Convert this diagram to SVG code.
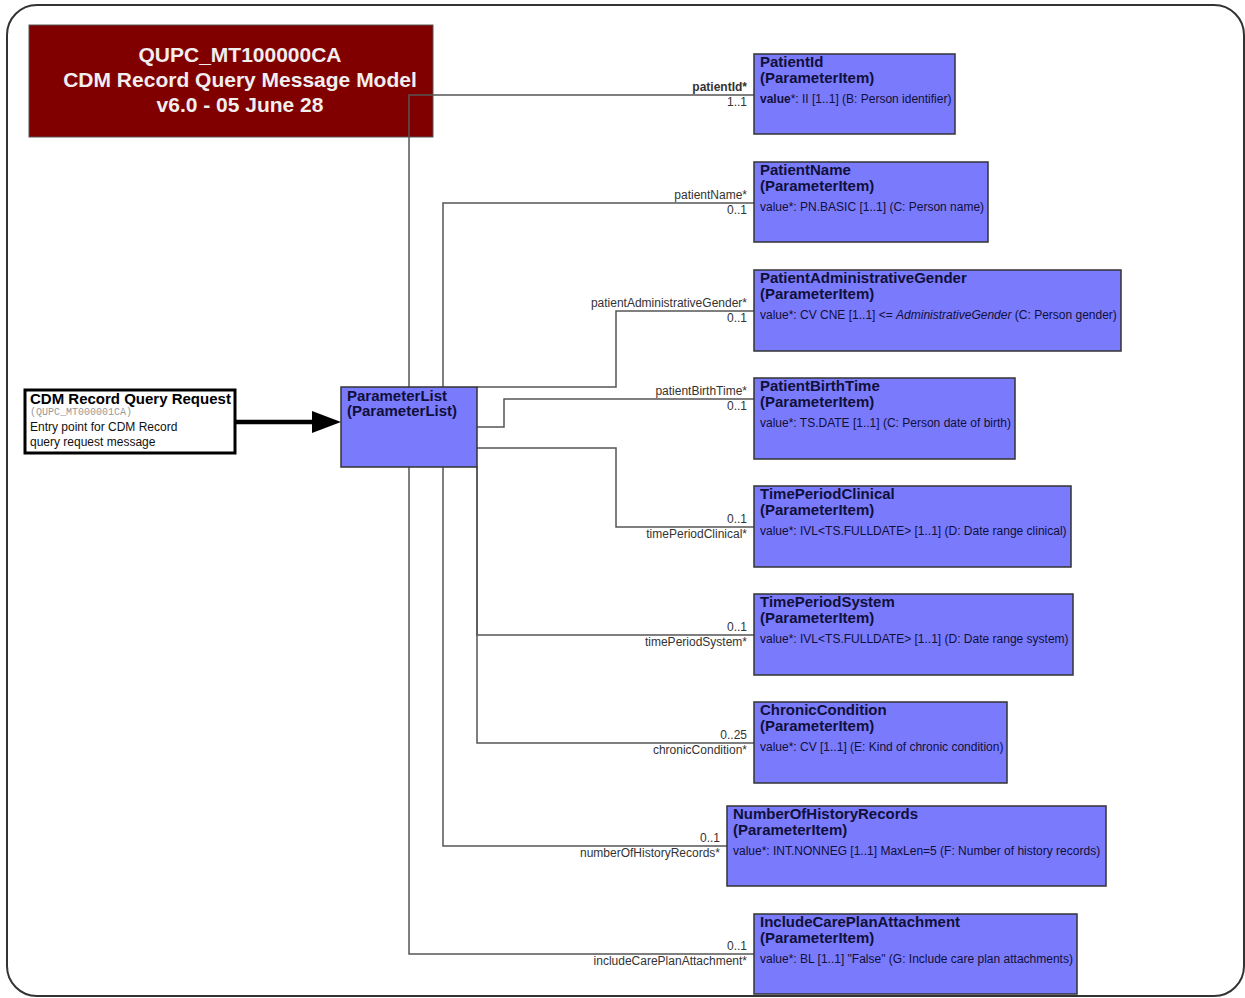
<svg xmlns="http://www.w3.org/2000/svg" width="1245" height="998" viewBox="0 0 1245 998">
<style>
.frame{fill:#fff;stroke:#333;stroke-width:2}
.node rect{fill:#7a7afc;stroke:#333;stroke-width:1.5}
.nt{font-family:"Liberation Sans",Arial,sans-serif;font-size:15px;font-weight:bold;fill:#10103a}
.nv{font-family:"Liberation Sans",Arial,sans-serif;font-size:12px;fill:#10103a}
.lbl{font-family:"Liberation Sans",Arial,sans-serif;font-size:12px;fill:#333;text-anchor:end}
.conn path{fill:none;stroke:#555;stroke-width:1.5}
.title{font-family:"Liberation Sans",Arial,sans-serif;font-size:21px;font-weight:bold;fill:#f0eeee;text-anchor:middle}
</style>
<rect class="frame" x="7" y="5" width="1237" height="991" rx="30"/>
<g id="title">
<rect x="29" y="25" width="404" height="112" fill="#800000" stroke="#555" stroke-width="1"/>
<text class="title" x="240" y="62">QUPC_MT100000CA</text>
<text class="title" x="240" y="87">CDM Record Query Message Model</text>
<text class="title" x="240" y="112">v6.0 - 05 June 28</text>
</g>
<g class="conn" id="connectors">
<path d="M409 387 V95 H754"/>
<path d="M443 387 V203 H754"/>
<path d="M477 387 H616 V311 H754"/>
<path d="M477 427 H504 V399 H754"/>
<path d="M477 448 H616 V527 H754"/>
<path d="M477 467 V635 H754"/>
<path d="M477 467 V743 H754"/>
<path d="M443 467 V846 H727"/>
<path d="M409 467 V954 H754"/>
<line x1="236" y1="422" x2="314" y2="422" stroke="#000" stroke-width="4.5"/>
<polygon points="312,411 341,422 312,433" fill="#000"/>
<text class="lbl" x="747" y="91" font-weight="bold">patientId*</text>
<text class="lbl" x="747" y="106">1..1</text>
<text class="lbl" x="747" y="199">patientName*</text>
<text class="lbl" x="747" y="214">0..1</text>
<text class="lbl" x="747" y="307">patientAdministrativeGender*</text>
<text class="lbl" x="747" y="322">0..1</text>
<text class="lbl" x="747" y="395">patientBirthTime*</text>
<text class="lbl" x="747" y="410">0..1</text>
<text class="lbl" x="747" y="523">0..1</text>
<text class="lbl" x="747" y="538">timePeriodClinical*</text>
<text class="lbl" x="747" y="631">0..1</text>
<text class="lbl" x="747" y="646">timePeriodSystem*</text>
<text class="lbl" x="747" y="739">0..25</text>
<text class="lbl" x="747" y="754">chronicCondition*</text>
<text class="lbl" x="720" y="842">0..1</text>
<text class="lbl" x="720" y="857">numberOfHistoryRecords*</text>
<text class="lbl" x="747" y="950">0..1</text>
<text class="lbl" x="747" y="965">includeCarePlanAttachment*</text>
</g>
<g id="entry">
<rect x="25" y="390" width="210" height="63" fill="#fff" stroke="#000" stroke-width="3"/>
<text x="30" y="404" font-family="Liberation Sans,Arial,sans-serif" font-size="15" font-weight="bold" fill="#000">CDM Record Query Request</text>
<text x="30" y="415" font-family="Liberation Mono,Courier New,monospace" font-size="10" fill="#999">(QUPC_MT000001CA)</text>
<text x="30" y="431" font-family="Liberation Sans,Arial,sans-serif" font-size="12" fill="#111">Entry point for CDM Record</text>
<text x="30" y="446" font-family="Liberation Sans,Arial,sans-serif" font-size="12" fill="#111">query request message</text>
</g>
<g class="node" id="ParameterList">
<rect x="341" y="387" width="136" height="80"/>
<text class="nt" x="347" y="401">ParameterList</text>
<text class="nt" x="347" y="416">(ParameterList)</text>
</g>
<g class="node" id="PatientId">
<rect x="754" y="54" width="201" height="80"/>
<text class="nt" x="760" y="67">PatientId</text>
<text class="nt" x="760" y="83">(ParameterItem)</text>
<text class="nv" x="760" y="103"><tspan font-weight="bold">value</tspan>*: II [1..1] (B: Person identifier)</text>
</g>
<g class="node" id="PatientName">
<rect x="754" y="162" width="234" height="80"/>
<text class="nt" x="760" y="175">PatientName</text>
<text class="nt" x="760" y="191">(ParameterItem)</text>
<text class="nv" x="760" y="211">value*: PN.BASIC [1..1] (C: Person name)</text>
</g>
<g class="node" id="PatientAdministrativeGender">
<rect x="754" y="270" width="367" height="81"/>
<text class="nt" x="760" y="283">PatientAdministrativeGender</text>
<text class="nt" x="760" y="299">(ParameterItem)</text>
<text class="nv" x="760" y="319">value*: CV CNE [1..1] &lt;= <tspan font-style="italic">AdministrativeGender</tspan> (C: Person gender)</text>
</g>
<g class="node" id="PatientBirthTime">
<rect x="754" y="378" width="261" height="81"/>
<text class="nt" x="760" y="391">PatientBirthTime</text>
<text class="nt" x="760" y="407">(ParameterItem)</text>
<text class="nv" x="760" y="427">value*: TS.DATE [1..1] (C: Person date of birth)</text>
</g>
<g class="node" id="TimePeriodClinical">
<rect x="754" y="486" width="317" height="81"/>
<text class="nt" x="760" y="499">TimePeriodClinical</text>
<text class="nt" x="760" y="515">(ParameterItem)</text>
<text class="nv" x="760" y="535">value*: IVL&lt;TS.FULLDATE&gt; [1..1] (D: Date range clinical)</text>
</g>
<g class="node" id="TimePeriodSystem">
<rect x="754" y="594" width="319" height="81"/>
<text class="nt" x="760" y="607">TimePeriodSystem</text>
<text class="nt" x="760" y="623">(ParameterItem)</text>
<text class="nv" x="760" y="643">value*: IVL&lt;TS.FULLDATE&gt; [1..1] (D: Date range system)</text>
</g>
<g class="node" id="ChronicCondition">
<rect x="754" y="702" width="253" height="81"/>
<text class="nt" x="760" y="715">ChronicCondition</text>
<text class="nt" x="760" y="731">(ParameterItem)</text>
<text class="nv" x="760" y="751">value*: CV [1..1] (E: Kind of chronic condition)</text>
</g>
<g class="node" id="NumberOfHistoryRecords">
<rect x="727" y="806" width="379" height="80"/>
<text class="nt" x="733" y="819">NumberOfHistoryRecords</text>
<text class="nt" x="733" y="835">(ParameterItem)</text>
<text class="nv" x="733" y="855">value*: INT.NONNEG [1..1] MaxLen=5 (F: Number of history records)</text>
</g>
<g class="node" id="IncludeCarePlanAttachment">
<rect x="754" y="914" width="323" height="80"/>
<text class="nt" x="760" y="927">IncludeCarePlanAttachment</text>
<text class="nt" x="760" y="943">(ParameterItem)</text>
<text class="nv" x="760" y="963">value*: BL [1..1] "False" (G: Include care plan attachments)</text>
</g>
</svg>
